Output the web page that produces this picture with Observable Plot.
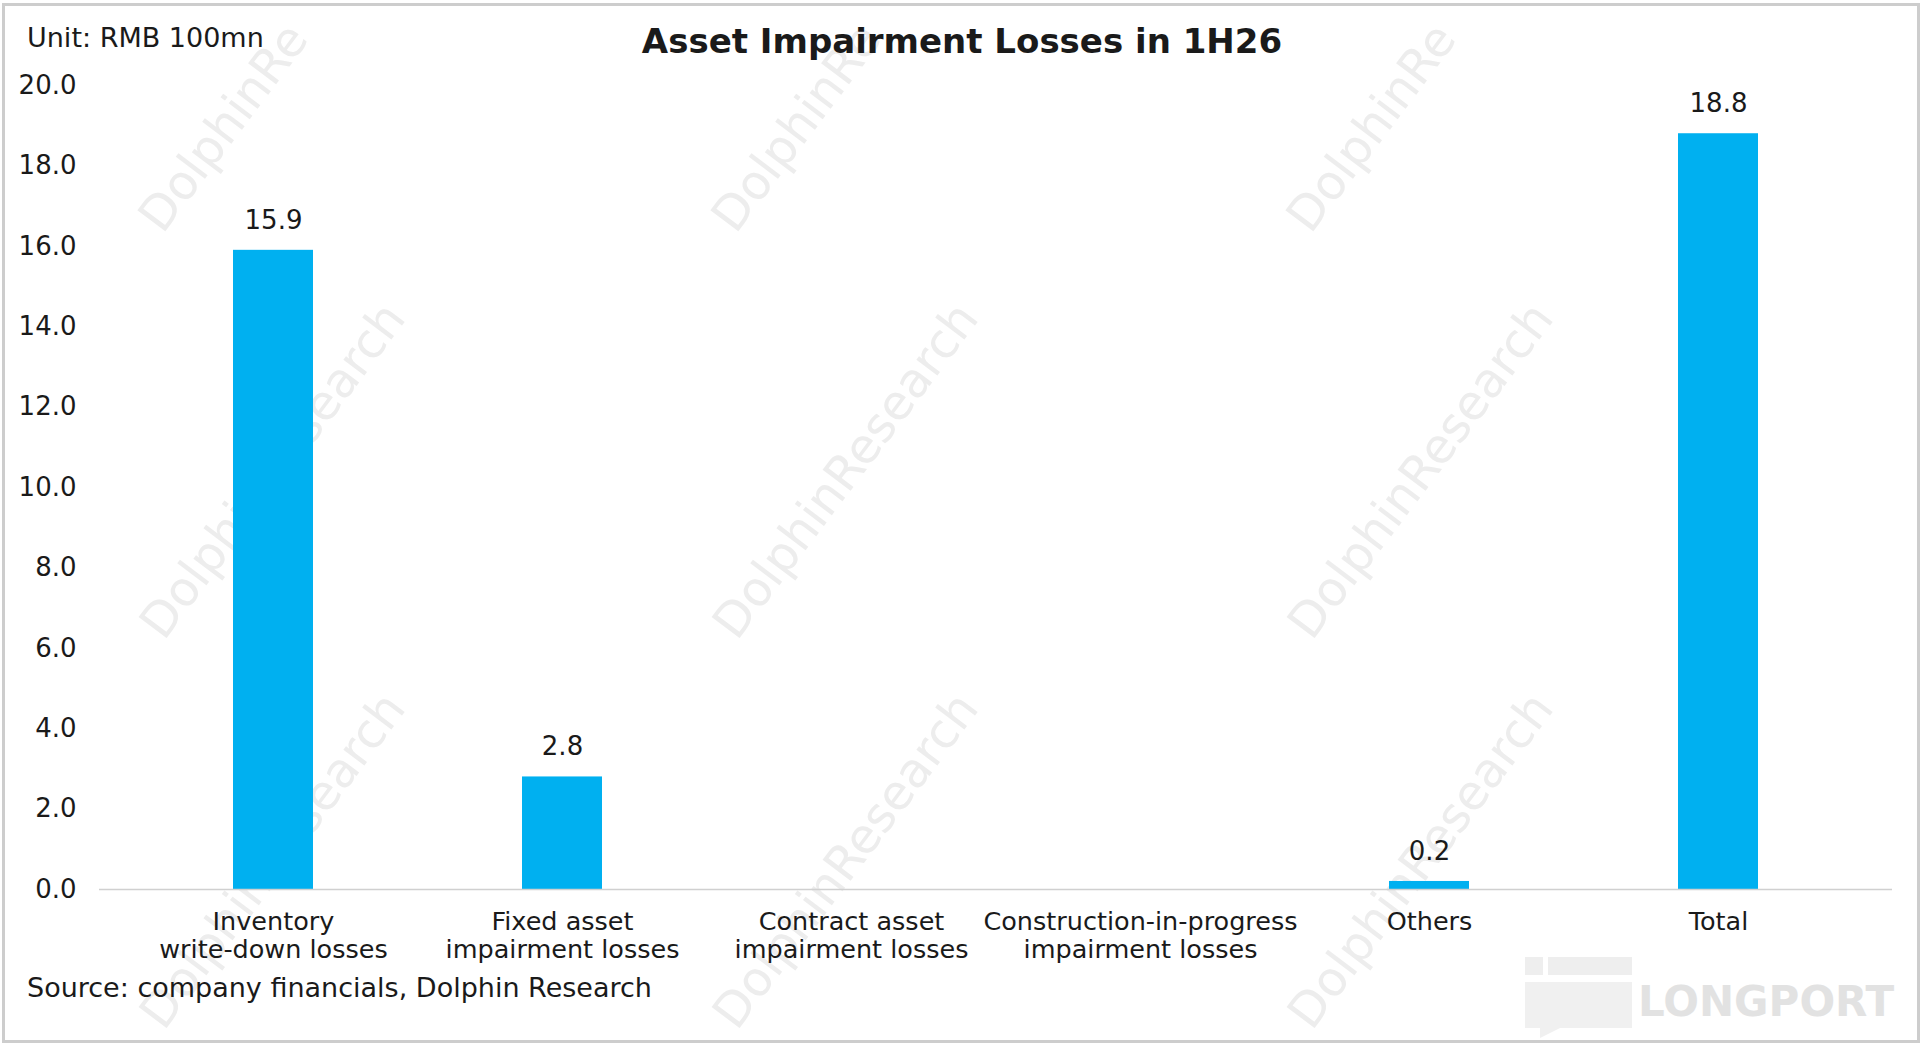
<!DOCTYPE html>
<html>
<head>
<meta charset="utf-8">
<script src="https://cdn.jsdelivr.net/npm/d3@7"></script>
<script src="https://cdn.jsdelivr.net/npm/@observablehq/plot@0.6"></script>
<style>
  html, body { margin: 0; padding: 0; background: #fff; }
  #wrap { position: relative; width: 1924px; height: 1046px; overflow: hidden; background: #fff;
          font-family: "DejaVu Sans", sans-serif; color: #1a1a1a; }
  #frame { position: absolute; left: 2px; top: 3px; width: 1912px; height: 1034px; border: 3px solid #cdcdcd; }
  #wm { position: absolute; left: 0; top: 0; }
  #title { position: absolute; left: 0; top: 21px; width: 1924px; text-align: center;
           font-size: 34px; font-weight: bold; line-height: 40px; }
  #unit { position: absolute; left: 27px; top: 23px; font-size: 27px; line-height: 30px; }
  #source { position: absolute; left: 27px; top: 973px; font-size: 27px; line-height: 30px; }
  #chart { position: absolute; left: 0; top: 60px; }
</style>
</head>
<body>
<div id="wrap">
  <svg id="wm" width="1924" height="1046"></svg>
  <div id="frame"></div>
  <div id="chart"></div>
  <div id="title">Asset Impairment Losses in 1H26</div>
  <div id="unit">Unit: RMB 100mn</div>
  <div id="source">Source: company financials, Dolphin Research</div>
</div>
<script>
// ---- data ----
const categories = [
  "Inventory\nwrite-down losses",
  "Fixed asset\nimpairment losses",
  "Contract asset\nimpairment losses",
  "Construction-in-progress\nimpairment losses",
  "Others",
  "Total"
];
const values = [15.9, 2.8, null, null, 0.2, 18.8];
const yTicks = [0, 2, 4, 6, 8, 10, 12, 14, 16, 18, 20];

const data = categories.map((c, i) => ({cat: c, value: values[i]}));
const labeled = data.filter(d => d.value != null);

// ---- watermark layer (decoration) ----
const wm = d3.select("#wm");
const wmCols = [272, 845, 1420];
// top row: only the part inside the frame is shown, anchored at its lower-left start
for (const cx of wmCols) {
  wm.append("text")
    .attr("transform", `translate(${cx - 123},${225}) rotate(-53)`)
    .attr("text-anchor", "start").attr("dy", "0.35em")
    .attr("font-family", "DejaVu Sans").attr("font-size", 48)
    .attr("fill", "#ededed").text("DolphinRe");
}
for (const cx of wmCols) for (const cy of [470, 860]) {
  wm.append("text")
    .attr("transform", `translate(${cx},${cy}) rotate(-53)`)
    .attr("text-anchor", "middle").attr("dy", "0.35em")
    .attr("font-family", "DejaVu Sans").attr("font-size", 48)
    .attr("fill", "#ededed").text("DolphinResearch");
}
// LONGPORT logo (faint)
wm.append("rect").attr("x", 1525).attr("y", 957).attr("width", 18).attr("height", 18).attr("fill", "#eeeeee");
wm.append("rect").attr("x", 1548).attr("y", 957).attr("width", 84).attr("height", 18).attr("fill", "#eeeeee");
wm.append("path").attr("d", "M1525,982 H1632 V1028 H1560 L1540,1038 V1028 H1525 Z").attr("fill", "#f0f0f0");
wm.append("text").attr("x", 1638).attr("y", 1016).attr("font-family", "DejaVu Sans")
  .attr("font-weight", "bold").attr("font-size", 42).attr("fill", "#e2e2e2").text("LONGPORT");

// ---- chart ----
const chart = Plot.plot({
  width: 1924,
  height: 910,
  marginLeft: 99,
  marginRight: 32,
  marginTop: 25,
  marginBottom: 81,
  style: {fontFamily: "DejaVu Sans, sans-serif", fontSize: "25px", color: "#1a1a1a", background: "transparent", overflow: "visible"},
  x: {domain: categories, paddingInner: 0.723, paddingOuter: 0.462, label: null},
  y: {domain: [0, 20], label: null},
  marks: [
    Plot.axisY({ticks: yTicks, tickFormat: d3.format(".1f"), tickSize: 0, tickPadding: 23, label: null, fontSize: 26}),
    Plot.axisX({tickSize: 0, tickPadding: 20, lineHeight: 1.12, label: null, fontSize: 25.5}),
    Plot.barY(data, {x: "cat", y: "value", fill: "#00B0F0"}),
    Plot.ruleY([0], {stroke: "#d0d0d0", strokeWidth: 1.6}),
    Plot.text(labeled, {x: "cat", y: "value", text: d => d.value.toFixed(1), dy: -30, fontSize: 26, fill: "#1a1a1a"})
  ]
});
document.getElementById("chart").appendChild(chart);
</script>
</body>
</html>
